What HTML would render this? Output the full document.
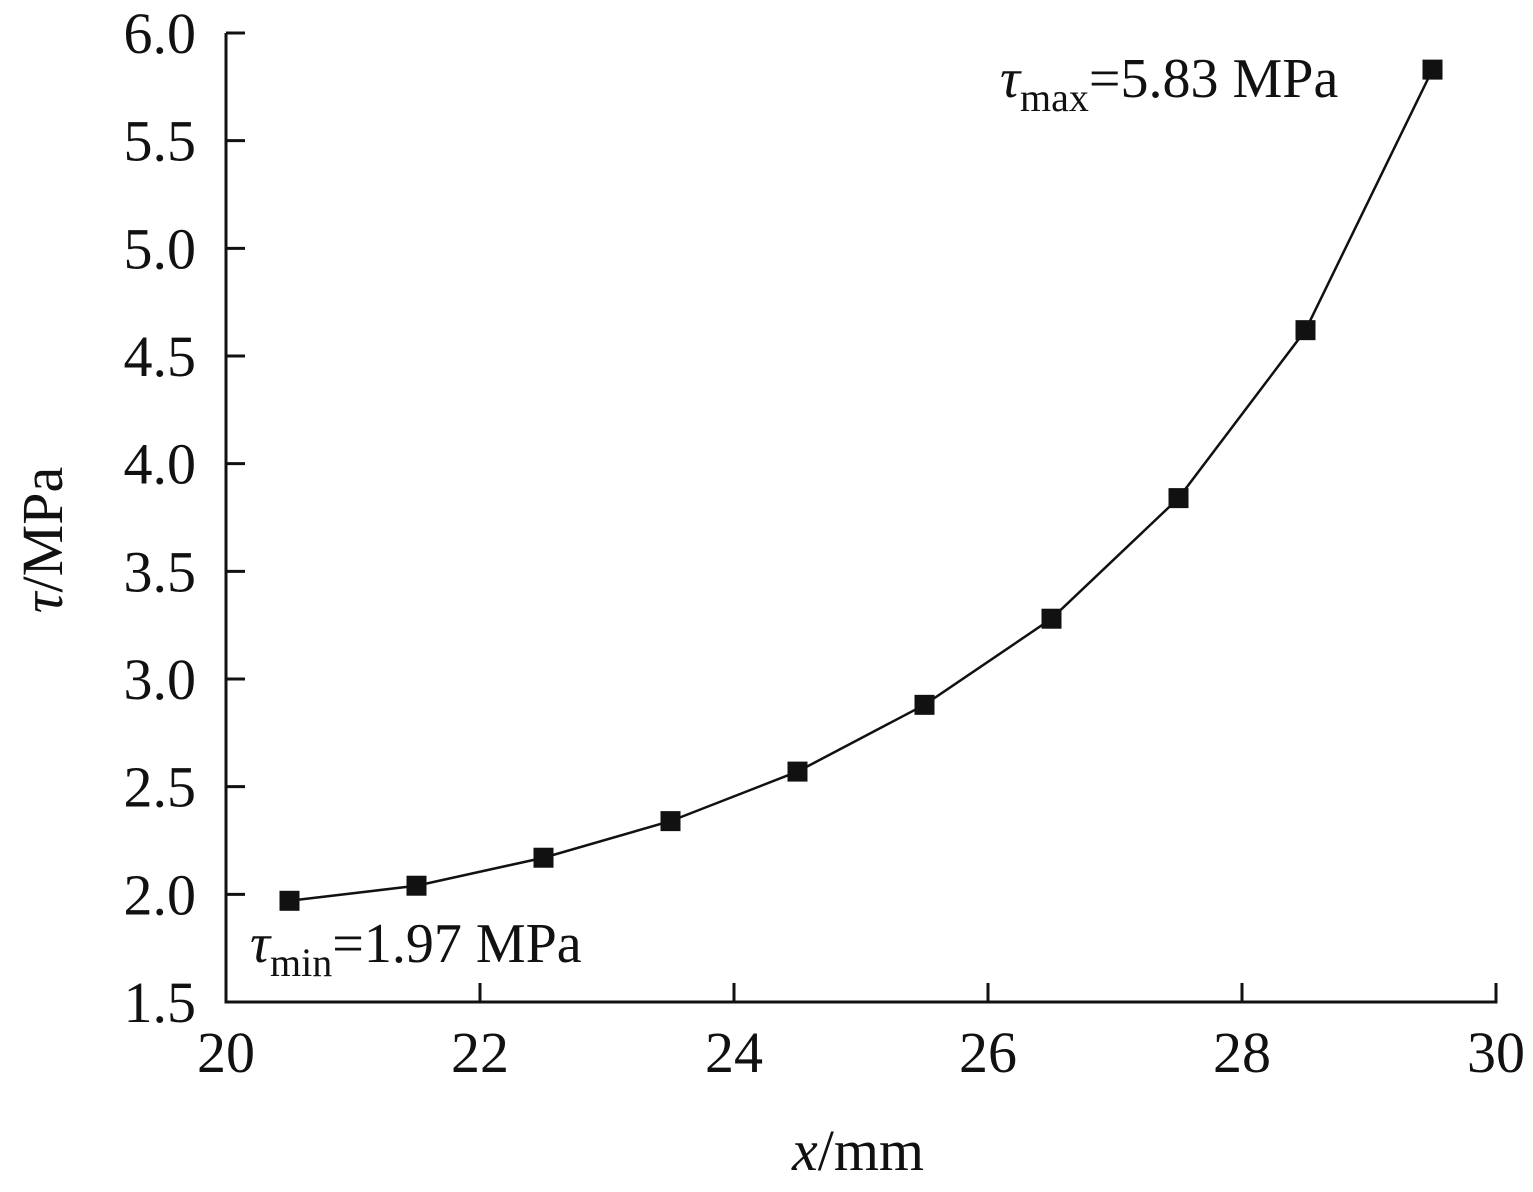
<!DOCTYPE html>
<html><head><meta charset="utf-8"><style>
body{margin:0;background:#fff}
svg{display:block}
text{font-family:"Liberation Serif",serif;fill:#111}
</style></head><body>
<svg id="chart" width="1533" height="1192" viewBox="0 0 1533 1192">
<g id="axes"></g>
<g id="series"></g>
<text transform="translate(62,540) rotate(-90)" text-anchor="middle" font-size="58"><tspan font-style="italic">τ</tspan>/MPa</text>
<text x="858" y="1170" text-anchor="middle" font-size="58"><tspan font-style="italic">x</tspan>/mm</text>
<text x="250" y="962" font-size="56"><tspan font-style="italic">τ</tspan><tspan font-size="40" dy="14">min</tspan><tspan dy="-14">=1.97 MPa</tspan></text>
<text x="1000" y="97" font-size="56"><tspan font-style="italic">τ</tspan><tspan font-size="40" dy="14">max</tspan><tspan dy="-14">=5.83 MPa</tspan></text>
</svg>
<script>
const xValues=[20.5,21.5,22.5,23.5,24.5,25.5,26.5,27.5,28.5,29.5];
const tauValues=[1.97,2.04,2.17,2.34,2.57,2.88,3.28,3.84,4.62,5.83];
const xTicks=[20,22,24,26,28,30];
const yTicks=[1.5,2.0,2.5,3.0,3.5,4.0,4.5,5.0,5.5,6.0];
const NS='http://www.w3.org/2000/svg';
const X0=226,X1=1496,Y0=1002,Y1=33;
const sx=v=>X0+(v-20)/(30-20)*(X1-X0);
const sy=v=>Y0-(v-1.5)/(6-1.5)*(Y0-Y1);
function mk(t,a,p){const e=document.createElementNS(NS,t);for(const k in a)e.setAttribute(k,a[k]);p.appendChild(e);return e;}
const ax=document.getElementById('axes'),se=document.getElementById('series');
const yl=mk('line',{x1:X0,y1:Y1,x2:X0,y2:Y0+1.5,stroke:'#111','stroke-width':3},ax);


const xl=mk('line',{x1:X0-1.5,y1:Y0,x2:X1+1.5,y2:Y0,stroke:'#111','stroke-width':3},ax);


xTicks.forEach(v=>{
 const t=mk('line',{x1:sx(v),y1:Y0,x2:sx(v),y2:Y0-19,stroke:'#111','stroke-width':3},ax);
 
 
 const l=mk('text',{x:sx(v),y:1072,'text-anchor':'middle','font-size':58},ax);
 
 
 l.textContent=v;
});
yTicks.forEach(v=>{
 const t=mk('line',{x1:X0,y1:sy(v),x2:X0+19,y2:sy(v),stroke:'#111','stroke-width':3},ax);
 
 
 const l=mk('text',{x:196,y:sy(v)+20,'text-anchor':'end','font-size':58},ax);
 
 
 l.textContent=v.toFixed(1);
});
const pl=mk('polyline',{points:xValues.map((x,i)=>sx(x)+','+sy(tauValues[i])).join(' '),fill:'none',stroke:'#111','stroke-width':2.5},se);


xValues.forEach((x,i)=>{
 const r=mk('rect',{x:sx(x)-10,y:sy(tauValues[i])-10,width:20,height:20,fill:'#111'},se);
 
 
});
</script>
</body></html>
